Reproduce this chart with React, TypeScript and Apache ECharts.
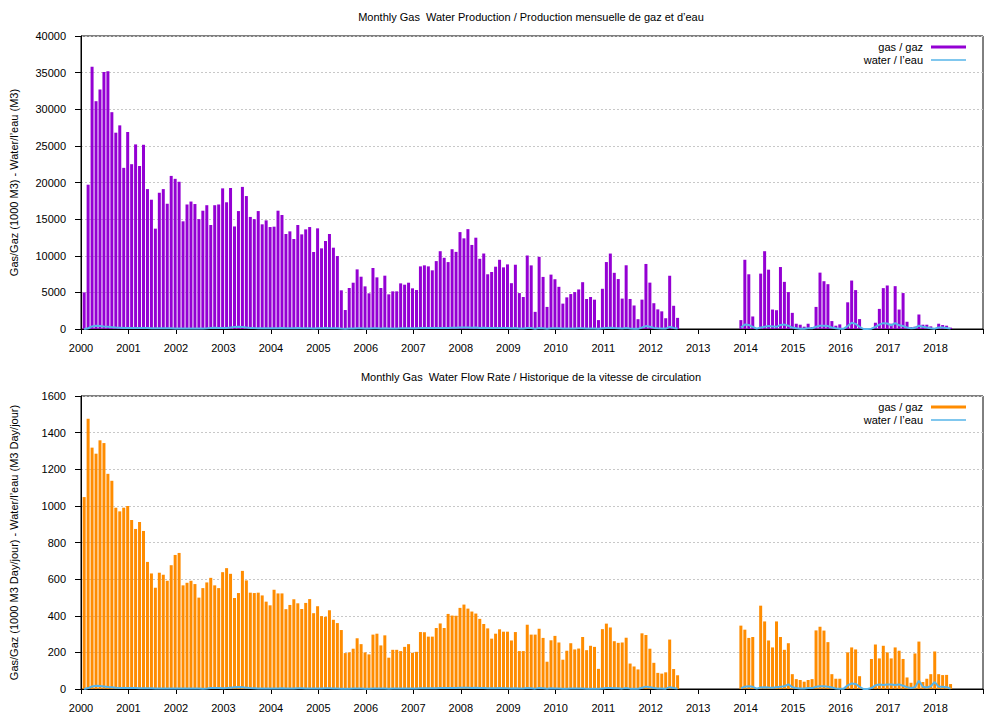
import React, { useEffect, useRef } from 'react';
import * as echarts from 'echarts';

const startYear = 2000;
const endYear = 2019;

const titleTop = 'Monthly Gas  Water Production / Production mensuelle de gaz et d\u2019eau';
const titleBottom = 'Monthly Gas  Water Flow Rate / Historique de la vitesse de circulation';
const yNameTop = 'Gas/Gaz (1000 M3) - Water/l\u2019eau (M3)';
const yNameBottom = 'Gas/Gaz (1000 M3 Day/jour) - Water/l\u2019eau (M3 Day/jour)';
const legendGas = 'gas / gaz';
const legendWater = 'water / l\u2019eau';

// Monthly gas production (1000 M3), Jan 2000 .. Apr 2018
const gasProduction = [
  5000, 19700, 35800, 31100, 32700, 35100, 35200, 29600, 26800, 27800, 22000, 26900,
  22500, 25200, 22250, 25150, 19100, 17650, 13700, 18600, 19100, 17100, 20900, 20500,
  20100, 14700, 17000, 17400, 17060, 15000, 16150, 16900, 14200, 16900, 17000, 19200,
  17300, 19250, 14000, 16100, 19400, 18150, 15300, 15000, 16100, 14290, 14830, 13920,
  13970, 16150, 15560, 12970, 13330, 12290, 14200, 12920, 13600, 13920, 10510, 13740,
  11010, 12010, 12970, 11100, 9960, 5280, 2590, 5600, 6320, 8140, 7140, 5820,
  4870, 8330, 7050, 5600, 7280, 4730, 5140, 5140, 6230, 6050, 6320, 5550,
  5320, 8550, 8690, 8550, 8010, 9270, 10620, 9720, 9135, 10890, 10530, 13230,
  12375, 13635, 11475, 12465, 9585, 10305, 7470, 7785, 8505, 9450, 8415, 8820,
  6255, 8775, 4905, 4365, 10035, 8685, 2340, 9855, 7110, 3015, 7425, 6795,
  5760, 3465, 4320, 4770, 5040, 5400, 6390, 4095, 4365, 4005, 1215, 5490,
  9140, 10300, 7670, 6820, 4150, 8700, 4100, 3210, 1340, 4010, 8880, 6330,
  3520, 2680, 2410, 1470, 7270, 3170, 1520, null, null, null, null, null,
  null, null, null, null, null, null, null, null, null, null, 1215, 9450,
  7470, 1710, 0, 7560, 10620, 8100, 2655, 2565, 8460, 6435, 5040, 2205,
  720, 585, 315, 720, 270, 3015, 7695, 6525, 6120, 1080, 450, 630,
  0, 3645, 6615, 5310, 1350, 0, 0, 100, 855, 2745, 5580, 5940,
  720, 5850, 2655, 4905, 990, 270, 315, 1980, 585, 585, 360, 0,
  720, 540, 450, 180,
];

// Monthly water production (M3)
const waterProduction = [
  0, 100, 350, 450, 420, 350, 300, 250, 200, 180, 150, 150,
  150, 140, 130, 120, 120, 110, 100, 100, 100, 90, 90, 80,
  80, 80, 80, 70, 70, 70, 60, 100, 150, 180, 150, 120,
  150, 200, 280, 320, 280, 200, 150, 120, 100, 100, 100, 100,
  100, 110, 120, 100, 90, 100, 120, 110, 100, 90, 80, 100,
  100, 120, 110, 100, 90, 60, 40, 60, 80, 100, 90, 70,
  70, 100, 90, 80, 100, 70, 80, 80, 90, 90, 100, 90,
  90, 120, 130, 120, 120, 130, 150, 140, 140, 160, 160, 200,
  200, 220, 180, 200, 150, 160, 120, 120, 130, 140, 130, 130,
  100, 130, 80, 70, 150, 130, 40, 150, 110, 50, 110, 100,
  90, 60, 70, 80, 80, 90, 100, 70, 70, 70, 20, 90,
  150, 170, 130, 110, 70, 140, 70, 50, 20, 200, 400, 300,
  150, 100, 80, 60, 300, 150, 60, null, null, null, null, null,
  null, null, null, null, null, null, null, null, null, null, 200, 600,
  550, 300, 50, 200, 300, 400, 350, 300, 550, 600, 450, 200,
  100, 50, 50, 100, 100, 300, 450, 450, 400, 200, 100, 50,
  50, 400, 850, 700, 300, 0, 0, 50, 300, 600, 800, 750,
  500, 800, 500, 400, 200, 100, 150, 450, 300, 200, 100, 50,
  200, 200, 150, 50,
];

// Gas flow rate (1000 M3 / day)
const gasRate = [
  1048, 1476, 1318, 1285, 1358, 1343, 1175, 1137, 990, 970, 990, 999,
  923, 874, 912, 863, 694, 631, 553, 635, 624, 591, 676, 732,
  743, 566, 580, 591, 573, 499, 551, 582, 607, 566, 551, 638,
  660, 629, 497, 524, 645, 593, 526, 524, 526, 511, 477, 457,
  542, 522, 522, 436, 459, 490, 468, 437, 470, 491, 414, 452,
  398, 394, 430, 378, 360, 322, 196, 200, 220, 277, 245, 200,
  189, 297, 302, 238, 293, 171, 214, 214, 207, 230, 245, 198,
  203, 311, 310, 286, 286, 333, 358, 333, 410, 401, 400, 443,
  461, 439, 423, 412, 383, 355, 331, 275, 302, 326, 313, 313,
  265, 311, 207, 207, 351, 297, 297, 329, 279, 149, 266, 290,
  254, 160, 209, 250, 216, 221, 284, 212, 236, 230, 110, 327,
  357, 336, 261, 252, 254, 280, 139, 123, 107, 304, 295, 220,
  143, 88, 84, 91, 270, 109, 75, null, null, null, null, null,
  null, null, null, null, null, null, null, null, null, null, 346, 324,
  279, 284, 0, 455, 369, 265, 227, 369, 284, 214, 250, 81,
  54, 49, 40, 49, 54, 320, 340, 319, 256, 81, 56, 56,
  0, 200, 227, 216, 70, 0, 0, 164, 243, 167, 236, 200,
  167, 227, 209, 164, 63, 34, 194, 259, 38, 56, 81, 205,
  81, 76, 77, 27,
];

// Water flow rate (M3 / day)
const waterRate = [
  0, 5, 14, 18, 17, 14, 11, 9, 7, 6, 5, 5,
  5, 5, 4, 4, 4, 4, 3, 3, 3, 3, 3, 3,
  3, 3, 3, 3, 3, 3, 2, 3, 5, 6, 5, 4,
  5, 7, 9, 11, 9, 7, 5, 4, 3, 3, 3, 3,
  3, 3, 4, 3, 3, 3, 4, 4, 3, 3, 3, 3,
  3, 4, 4, 3, 3, 2, 2, 2, 3, 3, 3, 2,
  2, 3, 3, 3, 3, 2, 3, 3, 3, 3, 3, 3,
  3, 4, 4, 4, 4, 4, 5, 5, 5, 5, 5, 7,
  7, 7, 6, 7, 5, 5, 4, 4, 4, 5, 4, 4,
  3, 4, 3, 3, 5, 4, 2, 5, 4, 2, 4, 3,
  3, 2, 2, 3, 3, 3, 3, 2, 2, 2, 1, 3,
  5, 6, 4, 4, 2, 5, 2, 2, 1, 7, 13, 10,
  5, 3, 3, 2, 10, 5, 2, null, null, null, null, null,
  null, null, null, null, null, null, null, null, null, null, 5, 12,
  15, 12, 2, 8, 10, 8, 7, 10, 12, 15, 25, 10,
  5, 3, 3, 5, 5, 12, 15, 15, 12, 8, 3, 2,
  2, 20, 30, 28, 12, 0, 0, 5, 20, 25, 22, 25,
  25, 22, 25, 18, 10, 5, 10, 45, 12, 8, 15, 38,
  12, 12, 10, 3,
];

const FONT = "'Liberation Sans', Arial, Helvetica, sans-serif";
const GAS_PURPLE = '#9400d3';
const GAS_ORANGE = '#ff8c00';
const WATER_BLUE = '#56b4e9';

function monthX(i: number) {
  return startYear + (i + 0.8) / 12;
}
function toPairs(arr: (number | null)[]) {
  return arr.map((v, i) => [monthX(i), v === null ? '-' : v]);
}

function xAxisCfg(gridIndex: number) {
  return {
    type: 'value',
    gridIndex,
    min: startYear,
    max: endYear,
    interval: 1,
    axisLine: { show: true, onZero: false, lineStyle: { color: '#000', width: 1 } },
    axisTick: { show: true, inside: false, length: 5, lineStyle: { color: '#000' } },
    axisLabel: {
      color: '#000',
      fontSize: 11,
      fontFamily: FONT,
      margin: 13,
      formatter: (v: number) => (v === endYear ? '' : String(v)),
    },
    splitLine: { show: false },
  };
}

function yAxisCfg(gridIndex: number, max: number, interval: number, name: string) {
  return {
    type: 'value',
    gridIndex,
    min: 0,
    max,
    interval,
    name,
    nameLocation: 'middle',
    nameGap: 62,
    nameTextStyle: { color: '#000', fontSize: 11, fontFamily: FONT },
    axisLine: { show: true, lineStyle: { color: '#000', width: 1 } },
    axisTick: { show: true, inside: false, length: 6, lineStyle: { color: '#000' } },
    axisLabel: {
      color: '#000',
      fontSize: 11,
      fontFamily: FONT,
      margin: 15,
      formatter: (v: number) => String(v),
    },
    splitLine: { show: true, lineStyle: { color: '#c8c8c8', type: [2, 2], width: 1 } },
  };
}

function legendGraphics(y: number, gasColor: string) {
  return [
    {
      type: 'text',
      x: 923,
      y: y,
      style: { text: legendGas, fill: '#000', font: `11px ${FONT}`, textAlign: 'right', textVerticalAlign: 'middle' },
    },
    {
      type: 'line',
      shape: { x1: 931, y1: y, x2: 966, y2: y },
      style: { stroke: gasColor, lineWidth: 3 },
    },
    {
      type: 'text',
      x: 923,
      y: y + 13,
      style: { text: legendWater, fill: '#000', font: `11px ${FONT}`, textAlign: 'right', textVerticalAlign: 'middle' },
    },
    {
      type: 'line',
      shape: { x1: 931, y1: y + 13, x2: 966, y2: y + 13 },
      style: { stroke: WATER_BLUE, lineWidth: 1.5 },
    },
  ];
}

export default function App() {
  const ref = useRef<HTMLDivElement>(null);

  useEffect(() => {
    document.body.style.margin = '0';
    if (!ref.current) return;
    const chart = echarts.init(ref.current, undefined, { renderer: 'svg' });
    const option = {
      animation: false,
      backgroundColor: '#ffffff',
      textStyle: { fontFamily: FONT },
      grid: [
        { left: 80, right: 25, top: 36, height: 293, show: true, borderColor: '#000', borderWidth: 1, backgroundColor: 'transparent' },
        { left: 80, right: 25, top: 396, height: 293, show: true, borderColor: '#000', borderWidth: 1, backgroundColor: 'transparent' },
      ],
      xAxis: [xAxisCfg(0), xAxisCfg(1)],
      yAxis: [
        yAxisCfg(0, 40000, 5000, yNameTop),
        yAxisCfg(1, 1600, 200, yNameBottom),
      ],
      series: [
        {
          name: legendGas,
          type: 'bar',
          xAxisIndex: 0,
          yAxisIndex: 0,
          barWidth: 3,
          itemStyle: { color: GAS_PURPLE },
          data: toPairs(gasProduction),
          z: 2,
        },
        {
          name: legendWater,
          type: 'line',
          xAxisIndex: 0,
          yAxisIndex: 0,
          showSymbol: false,
          connectNulls: false,
          lineStyle: { color: WATER_BLUE, width: 2 },
          data: toPairs(waterProduction),
          z: 3,
        },
        {
          name: legendGas + ' rate',
          type: 'bar',
          xAxisIndex: 1,
          yAxisIndex: 1,
          barWidth: 3,
          itemStyle: { color: GAS_ORANGE },
          data: toPairs(gasRate),
          z: 2,
        },
        {
          name: legendWater + ' rate',
          type: 'line',
          xAxisIndex: 1,
          yAxisIndex: 1,
          showSymbol: false,
          connectNulls: false,
          lineStyle: { color: WATER_BLUE, width: 2 },
          data: toPairs(waterRate),
          z: 3,
        },
      ],
      graphic: [
        {
          type: 'text',
          x: 531,
          y: 17,
          style: { text: titleTop, fill: '#000', font: `11px ${FONT}`, textAlign: 'center', textVerticalAlign: 'middle' },
        },
        {
          type: 'text',
          x: 531,
          y: 377,
          style: { text: titleBottom, fill: '#000', font: `11px ${FONT}`, textAlign: 'center', textVerticalAlign: 'middle' },
        },
        ...legendGraphics(47, GAS_PURPLE),
        ...legendGraphics(407, GAS_ORANGE),
      ],
    };
    chart.setOption(option as any);
    return () => chart.dispose();
  }, []);

  return <div ref={ref} style={{ width: 1008, height: 720 }} />;
}
